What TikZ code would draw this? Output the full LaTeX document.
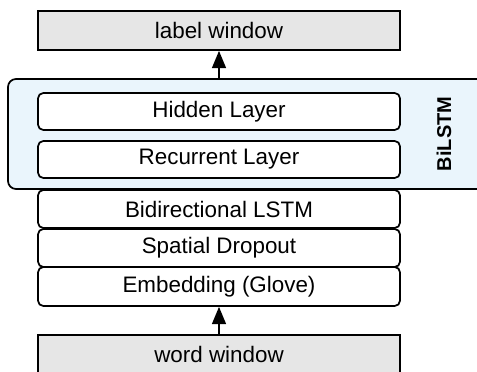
\documentclass[tikz,border=0pt]{standalone}
\usepackage{fontspec}
\setmainfont{Liberation Sans}
\usepackage{tikz}
\usetikzlibrary{arrows.meta, positioning, calc}
\definecolor{windowgrey}{HTML}{E6E6E6}
\definecolor{lstmblue}{HTML}{EAF5FC}

\begin{document}
\begin{tikzpicture}[x=0.75pt, y=-0.75pt,
    layerbox/.style={draw=black, line width=1.3pt, rounded corners=4pt, fill=white,
      minimum width=271.5pt, inner sep=0pt, font=\fontsize{16.8}{19}\selectfont},
    windowbox/.style={draw=black, line width=1.3pt, fill=windowgrey,
      minimum width=271.5pt, inner sep=0pt, font=\fontsize{16.8}{19}\selectfont},
    flow/.style={line width=1.3pt, -{Triangle[length=13pt, width=10.5pt]}}]
  \useasboundingbox (0,0) rectangle (477,371);
  % BiLSTM block with its two layers
  \node[draw=black, line width=1.3pt, rounded corners=6pt, fill=lstmblue,
    minimum width=361.5pt, minimum height=82.5pt] (bilstm) at (249,134) {};
  \node[layerbox, minimum height=27.75pt] (hidden) at (219,111.5) {Hidden Layer};
  \node[layerbox, minimum height=27.75pt] (recurrent) at (219,159.5) {Recurrent Layer};
  \node[rotate=90, font=\fontsize{15}{18}\selectfont\bfseries] (bilabel) at (444,134) {BiLSTM};
  % layer stack
  \node[layerbox, minimum height=28.5pt] (bidir) at (219,209) {Bidirectional LSTM};
  \node[layerbox, minimum height=28.5pt] (dropout) at (219,248) {Spatial Dropout};
  \node[layerbox, minimum height=29.25pt] (embed) at (219,286.5) {Embedding (Glove)};
  % input and output windows
  \node[windowbox, minimum height=29.25pt] (lblwin) at (219,30.5) {label window};
  \node[windowbox, minimum height=28.5pt] (wordwin) at (219,354) {word window};
  \draw[flow] (wordwin.north) -- (embed.south);
  \draw[flow] (bilstm.north -| lblwin.south) -- (lblwin.south);
\end{tikzpicture}
\end{document}
